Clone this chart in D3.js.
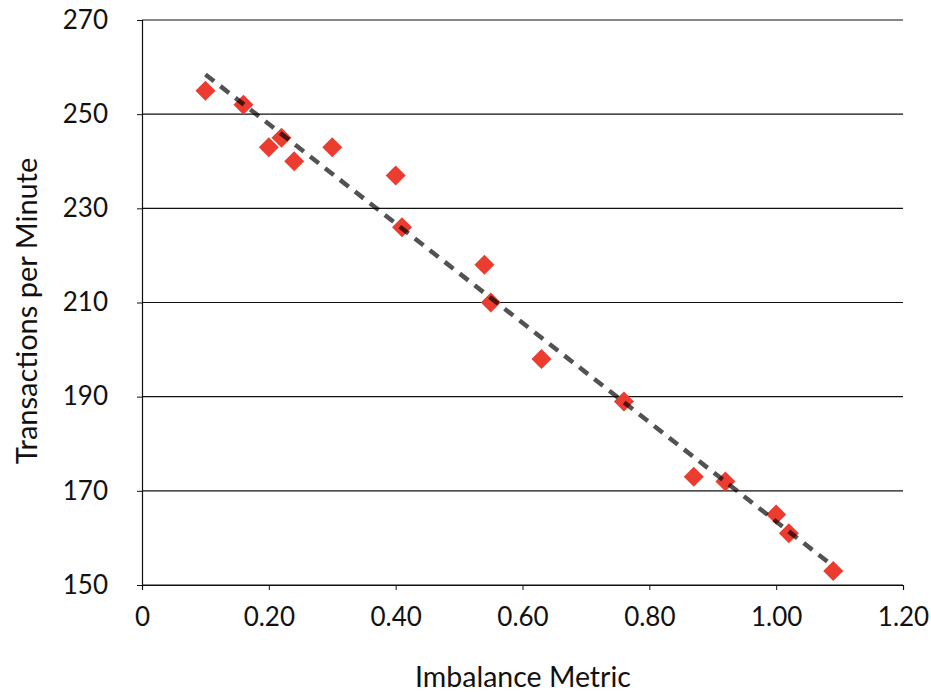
<!DOCTYPE html>
<html>
<head>
<meta charset="utf-8">
<script src="https://cdn.jsdelivr.net/npm/d3@7"></script>
<style>
  body { margin: 0; background: #fff; }
  text { font-family: Lato, "Open Sans", sans-serif; fill: #111; }
</style>
</head>
<body>
<div id="chart"></div>
<script>
// data
var imbalance = [0.10, 0.16, 0.20, 0.22, 0.24, 0.30, 0.40, 0.41, 0.54, 0.55,
                 0.63, 0.76, 0.87, 0.92, 1.00, 1.02, 1.09];
var tpm = [255, 252, 243, 245, 240, 243, 237, 226, 218, 210,
           198, 189, 173, 172, 165, 161, 153];
var xTicks = [0, 0.2, 0.4, 0.6, 0.8, 1.0, 1.2];
var xTickLabels = ["0", "0.20", "0.40", "0.60", "0.80", "1.00", "1.20"];
var yTicks = [150, 170, 190, 210, 230, 250, 270];

var margin = {top: 20, right: 28, bottom: 108, left: 142},
    width = 931 - margin.left - margin.right,
    height = 693 - margin.top - margin.bottom;

var svg = d3.select("#chart")
  .append("svg")
    .attr("width", 931)
    .attr("height", 693)
  .append("g")
    .attr("transform", "translate(" + margin.left + "," + margin.top + ")");

var x = d3.scaleLinear().domain([0, 1.2]).range([0, width]);
var y = d3.scaleLinear().domain([150, 270]).range([height, 0]);

// horizontal gridlines
svg.append("g")
  .selectAll("line")
  .data(yTicks)
  .enter().append("line")
    .attr("x1", 0)
    .attr("x2", width)
    .attr("y1", function(d) { return y(d); })
    .attr("y2", function(d) { return y(d); })
    .attr("stroke", "#111")
    .attr("stroke-width", 1.2);

// X axis
var xAxis = svg.append("g")
  .attr("transform", "translate(0," + height + ")")
  .call(d3.axisBottom(x)
    .tickValues(xTicks)
    .tickFormat(function(d, i) { return xTickLabels[i]; })
    .tickSize(5)
    .tickPadding(18));
xAxis.select(".domain").attr("stroke", "#111").attr("stroke-width", 1.2);
xAxis.selectAll(".tick line").attr("stroke", "#111");
xAxis.selectAll("text").style("font-size", "26px").attr("fill", "#111");

// Y axis
var yAxis = svg.append("g")
  .call(d3.axisLeft(y)
    .tickValues(yTicks)
    .tickSize(5)
    .tickPadding(29));
yAxis.select(".domain").attr("stroke", "#111").attr("stroke-width", 1.2);
yAxis.selectAll(".tick line").attr("stroke", "#111");
yAxis.selectAll("text").style("font-size", "26px").attr("fill", "#111");

// axis titles
svg.append("text")
  .attr("x", 381)
  .attr("y", height + 102)
  .style("text-anchor", "middle")
  .style("font-size", "28.5px")
  .text("Imbalance Metric");

svg.append("text")
  .attr("transform", "rotate(-90)")
  .attr("x", -291)
  .attr("y", -margin.left + 37)
  .style("text-anchor", "middle")
  .style("font-size", "29px")
  .text("Transactions per Minute");

// points as diamonds
var points = imbalance.map(function(d, i) { return {x: d, y: tpm[i]}; });
svg.append("g")
  .selectAll("path")
  .data(points)
  .enter().append("path")
    .attr("transform", function(d) { return "translate(" + x(d.x) + "," + y(d.y) + ")"; })
    .attr("d", "M0,-10L10,0L0,10L-10,0Z")
    .attr("fill", "#ec3b2f");

// linear trend line (least squares)
var mx = d3.mean(imbalance), my = d3.mean(tpm);
var sxy = d3.sum(imbalance, function(d, i) { return (d - mx) * (tpm[i] - my); });
var sxx = d3.sum(imbalance, function(d) { return (d - mx) * (d - mx); });
var slope = sxy / sxx, intercept = my - slope * mx;
var ext = d3.extent(imbalance);

svg.append("line")
  .attr("x1", x(ext[0]))
  .attr("y1", y(intercept + slope * ext[0]))
  .attr("x2", x(ext[1]))
  .attr("y2", y(intercept + slope * ext[1]))
  .attr("stroke", "#000")
  .attr("stroke-opacity", 0.68)
  .attr("stroke-width", 4.5)
  .attr("stroke-dasharray", "11,8");
</script>
</body>
</html>
